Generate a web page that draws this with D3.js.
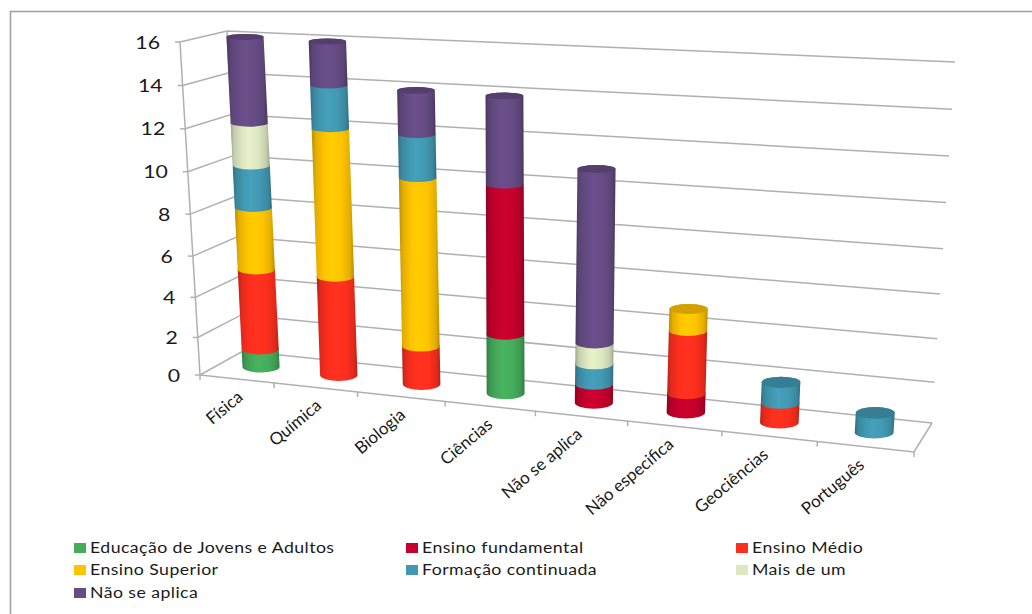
<!DOCTYPE html>
<html><head><meta charset="utf-8">
<script src="https://cdn.jsdelivr.net/npm/d3@7"></script>
<style>html,body{margin:0;background:#fff}svg{display:block}text{font-family:Lato,"Open Sans",sans-serif;fill:#1a1a1a}</style>
</head><body><svg id="c" width="1032" height="614"></svg>
<script>
const categories=["Física","Química","Biologia","Ciências","Não se aplica","Não especifica","Geociências","Português"];
const seriesNames=["Educação de Jovens e Adultos","Ensino fundamental","Ensino Médio","Ensino Superior","Formação continuada","Mais de um","Não se aplica"];
const eja=[1,0,0,3,0,0,0,0];
const fundamental=[0,0,0,7,1,1,0,0];
const medio=[4,5,2,0,0,3,1,0];
const superior=[3,7,8,0,0,1,0,0];
const formacao=[2,2,2,0,1,0,1,1];
const maisDeUm=[2,0,0,0,1,0,0,0];
const naoAplica=[4,2,2,4,8,0,0,0];
const yTicks=[0,2,4,6,8,10,12,14,16];
const colors=["#45AC5B","#C6002C","#FF2F1E","#FFC400","#4299B3","#DDE8C2","#664C85"];
const columns=[eja,fundamental,medio,superior,formacao,maisDeUm,naoAplica];

const rows=categories.map((c,i)=>{const r={cat:c};seriesNames.forEach((s,j)=>r[s]=columns[j][i]);return r;});
const stack=d3.stack().keys(seriesNames)(rows);

const svg=d3.select("#c");
svg.append("path").attr("d","M10.5,614V11.5H1032").attr("fill","none").attr("stroke","#a0a0a0").attr("stroke-width",1.6);
const band=d3.scaleBand().domain(categories).range([0,1]);
const uWarp=d3.scalePow().exponent(1.09).domain([0,1]).range([0,1]);
const vScale=d3.scalePow().exponent(1.05).domain([0,16]).range([0,1]);

const C={fl0:[200,375],fr0:[914,452],bl0:[243,351],br0:[932,423],
         fl1:[180,42],fr1:[937,91],bl1:[227,31],br1:[955,62]};
const mix=(a,b,t)=>[a[0]+(b[0]-a[0])*t,a[1]+(b[1]-a[1])*t];
function project(u,val,w){
  const U=uWarp(u),V=vScale(val);
  const f0=mix(C.fl0,C.fr0,U),b0=mix(C.bl0,C.br0,U),f1=mix(C.fl1,C.fr1,U),b1=mix(C.bl1,C.br1,U);
  return mix(mix(f0,b0,w),mix(f1,b1,w),V);
}
const line=d3.line();
const gridColor="#b0b0b0";

const g=svg.append("g").attr("fill","none").attr("stroke",gridColor).attr("stroke-width",1.5);
yTicks.forEach(t=>{
  g.append("path").attr("d",line([project(0,t,0),project(0,t,1),project(1,t,1)]));
  const p=project(0,t,0);
  g.append("path").attr("d",line([p,[p[0]-5,p[1]]]));
});
g.append("path").attr("d",line([project(0,0,0),project(0,16,0)]));
g.append("path").attr("d",line([project(0,0,1),project(0,16,1)]));
g.append("path").attr("d",line([project(0,0,0),project(1,0,0),project(1,0,1)]));
d3.range(0,categories.length+1).forEach(i=>{
  const p=project(i/categories.length,0,0);
  g.append("path").attr("d",line([p,[p[0],p[1]+5]]));
});

svg.append("g").selectAll("text").data(yTicks).join("text")
  .attr("text-anchor","end").attr("font-size",17)
  .attr("transform",t=>{const p=project(0,t,0);return `translate(${p[0]-20},${p[1]+6.5}) scale(1.25,1)`;})
  .text(d=>d);

const labelShift=d3.scaleLinear().domain([0,.7,1]).range([10,0,0]);
svg.append("g").selectAll("text").data(categories).join("text")
  .attr("text-anchor","end").attr("font-size",17)
  .attr("transform",c=>{const u=band(c)+band.bandwidth()/2,p=project(u,0,0);return `translate(${p[0]+labelShift(u)},${p[1]+20}) rotate(-40)`;})
  .text(d=>d);

const defs=svg.append("defs");
colors.forEach((c,i)=>{
  const d=d3.color(c).darker(.9),h=d3.color(c).brighter(.12);
  const lg=defs.append("linearGradient").attr("id","g"+i);
  [[0,d],[.1,d3.interpolateRgb(d,c)(.6)],[.3,c],[.45,h],[.7,c],[.9,d3.interpolateRgb(d,c)(.6)],[1,d]].forEach(s=>lg.append("stop").attr("offset",s[0]).attr("stop-color",s[1]));
});

const rx=d3.scaleLinear().domain([0,1]).range([18.5,19.5]);
const ry=d3.scaleLinear().domain([0,16]).range([6,3]);
const barShift=d3.scaleLinear().domain([0,.3,.5,1]).range([6,3,-2.5,-1]);
const barLift=d3.scaleLinear().domain([0,16]).range([0,-1.5]);
const depth=.5;
categories.forEach((c,i)=>{
  const u=band(c)+band.bandwidth()/2;
  const bar=svg.append("g");
  const pt=v=>{const p=project(u,v,depth);return [p[0]+barShift(u),p[1]+barLift(v)];};
  let top=null;
  stack.forEach((s,j)=>{
    const [a,b]=s[i];
    if(b<=a)return;
    const p0=pt(a),p1=pt(b);
    const r=rx(u),r0=ry(a),r1=ry(b);
    bar.append("path").attr("fill",`url(#g${j})`)
      .attr("d",`M${p1[0]-r},${p1[1]}L${p0[0]-r},${p0[1]}A${r},${r0} 0 0 0 ${p0[0]+r},${p0[1]}L${p1[0]+r},${p1[1]}A${r},${r1} 0 0 0 ${p1[0]-r},${p1[1]}Z`);
    top={p:p1,r,ry:r1,j};
  });
  if(top)bar.append("ellipse").attr("cx",top.p[0]).attr("cy",top.p[1]).attr("rx",top.r).attr("ry",top.ry)
    .attr("fill",d3.color(colors[top.j]).darker(.55));
});

const legX=d3.scaleOrdinal().domain([0,1,2]).range([74,406,736]);
const legY=d3.scaleOrdinal().domain([0,1,2]).range([548,570,593]);
const leg=svg.append("g").selectAll("g").data(seriesNames).join("g")
  .attr("transform",(d,i)=>`translate(${legX(i%3)},${legY(Math.floor(i/3))})`);
leg.append("rect").attr("x",0).attr("y",-5).attr("width",12).attr("height",10).attr("fill",(d,i)=>colors[i]);
leg.append("text").attr("transform","translate(16,5) scale(1.14,1)").attr("font-size",15.5).attr("letter-spacing",.4).text(d=>d);
</script></body></html>
